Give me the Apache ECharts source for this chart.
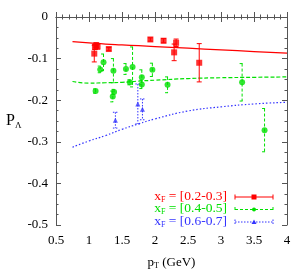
<!DOCTYPE html>
<html><head><meta charset="utf-8">
<script src="https://cdn.jsdelivr.net/npm/echarts@6/dist/echarts.min.js"></script>
<style>html,body{margin:0;padding:0;background:#fff}#c{width:295px;height:275px}</style>
</head><body><div id="c"></div>
<script>
// Data: [pT, P_Lambda, error]
const redPts = [
  [1.08, -0.088, 0.02], [1.09, -0.072, 0.006], [1.11, -0.068, 0.006], [1.13, -0.071, 0.006],
  [1.30, -0.077, 0.004], [1.93, -0.054, 0.004], [2.13, -0.057, 0.005], [2.29, -0.085, 0.02],
  [2.32, -0.062, 0.009], [2.67, -0.110, 0.046]
];
const greenPts = [
  [1.10, -0.178, 0.005], [1.17, -0.126, 0.008], [1.22, -0.109, 0.02], [1.36, -0.191, 0.013],
  [1.38, -0.180, 0.006], [1.37, -0.129, 0.029], [1.56, -0.125, 0.013], [1.62, -0.157, 0.006],
  [1.66, -0.120, 0.048], [1.80, -0.145, 0.018], [1.80, -0.162, 0.01], [1.96, -0.127, 0.016],
  [2.19, -0.163, 0.019], [3.32, -0.157, 0.045], [3.66, -0.272, 0.052]
];
const bluePts = [
  [1.40, -0.248, 0.019], [1.74, -0.209, 0.048], [1.81, -0.222, 0.025]
];
const curveX = [0.75, 1.0, 1.25, 1.5, 1.75, 2.0, 2.5, 3.0, 3.5, 4.0];
const redCurve = [-0.059, -0.062, -0.065, -0.067, -0.069, -0.071, -0.075, -0.079, -0.083, -0.087];
const greenCurve = [-0.155, -0.159, -0.158, -0.157, -0.154, -0.152, -0.148, -0.146, -0.145, -0.144];
const blueCurve = [-0.313, -0.298, -0.285, -0.270, -0.257, -0.245, -0.226, -0.216, -0.209, -0.205];
const xTicks = [0.5, 1, 1.5, 2, 2.5, 3, 3.5, 4];
const yTicks = [0, -0.1, -0.2, -0.3, -0.4, -0.5];
const legendNames = ['[0.2-0.3]', '[0.4-0.5]', '[0.6-0.7]'];

const RED = '#ff0000', GREEN = '#00e000', BLUE = '#3333ff';
const FONT = '"Liberation Serif", "DejaVu Serif", serif';
const AX = '#555';

function errSeries(pts, color, dash, sym, symSize) {
  return [{
    type: 'custom', xAxisIndex: 0, yAxisIndex: 0, z: 3,
    data: pts,
    renderItem: function (params, api) {
      const x = api.value(0), y = api.value(1), e = api.value(2);
      const top = api.coord([x, y + e]), bot = api.coord([x, y - e]);
      const w = 2.5;
      const st = { stroke: color, lineWidth: 1, lineDash: dash };
      return { type: 'group', children: [
        { type: 'line', shape: { x1: top[0], y1: top[1], x2: bot[0], y2: bot[1] }, style: st },
        { type: 'line', shape: { x1: top[0] - w, y1: top[1], x2: top[0] + w, y2: top[1] }, style: st },
        { type: 'line', shape: { x1: bot[0] - w, y1: bot[1], x2: bot[0] + w, y2: bot[1] }, style: st }
      ]};
    }
  }, {
    type: 'scatter', data: pts.map(p => [p[0], p[1]]), symbol: sym, symbolSize: symSize, z: 4,
    itemStyle: { color: color }, silent: true
  }];
}
function curve(ys, color, type) {
  return { type: 'line', data: curveX.map((x, i) => [x, ys[i]]), smooth: true, showSymbol: false,
    lineStyle: { color: color, width: 1.2, type: type }, z: 2, silent: true };
}

const axisCommon = {
  axisLine: { show: true, lineStyle: { color: AX, width: 1 } },
  splitLine: { show: false },
  axisTick: { show: true, inside: true, length: 5, lineStyle: { color: AX } }
};
const xMinor = { minorTick: { show: true, splitNumber: 5, length: 2.5, lineStyle: { color: AX } } };
const yMinor = { minorTick: { show: true, splitNumber: 4, length: 2.5, lineStyle: { color: AX } } };

const chart = echarts.init(document.getElementById('c'), null, { renderer: 'canvas' });
const option = {
  animation: false,
  grid: { left: 56, right: 8, top: 17, bottom: 40 },
  xAxis: [
    Object.assign({ type: 'value', min: 0.5, max: 4, interval: 0.5, position: 'bottom',
      axisLabel: { color: '#000', fontFamily: FONT, fontSize: 13, margin: 9,
        formatter: v => xTicks.includes(v) ? String(v) : '' },
      name: '{p|p}{s|T}{p| (GeV)}', nameLocation: 'middle', nameGap: 31,
      nameTextStyle: { rich: {
        p: { fontFamily: FONT, fontSize: 13, color: '#000' },
        s: { fontFamily: FONT, fontSize: 8, color: '#000', verticalAlign: 'bottom', padding: [6, 0, 0, 0] }
      } } }, axisCommon, xMinor),
    Object.assign({ type: 'value', min: 0.5, max: 4, interval: 0.5, position: 'top', axisLabel: { show: false } },
      axisCommon, xMinor)
  ],
  yAxis: [
    Object.assign({ type: 'value', min: -0.5, max: 0, interval: 0.1, position: 'left',
      axisLabel: { color: '#000', fontFamily: FONT, fontSize: 13, margin: 8,
        formatter: v => { const r = Math.round(v * 10) / 10; return yTicks.includes(r) ? (r === 0 ? '0' : String(r)) : ''; } },
      name: '{p|P}{s|Λ}', nameLocation: 'middle', nameGap: 30, nameRotate: 0,
      nameTextStyle: { rich: {
        p: { fontFamily: FONT, fontSize: 16, color: '#000' },
        s: { fontFamily: FONT, fontSize: 9, color: '#000', padding: [10, 0, 0, 0] }
      } } }, axisCommon, yMinor),
    Object.assign({ type: 'value', min: -0.5, max: 0, interval: 0.1, position: 'right', axisLabel: { show: false } },
      axisCommon, yMinor)
  ],
  series: [
    curve(redCurve, RED, 'solid'),
    curve(greenCurve, GREEN, [4, 2]),
    curve(blueCurve, BLUE, [1.5, 2]),
    ...errSeries(redPts, RED, null, 'rect', 6),
    ...errSeries(greenPts, GREEN, [3, 2], 'circle', 6),
    ...errSeries(bluePts, BLUE, [1.5, 1.5], 'triangle', 5)
  ],
  graphic: []
};

// Legend (manual, bottom right inside plot)
const legColors = [RED, GREEN, BLUE];
const legDash = [null, [3, 2], [1.5, 1.5]];
const legSym = ['rect', 'circle', 'triangle'];
const legY = [197, 209.5, 222];
legendNames.forEach((n, i) => {
  const c = legColors[i];
  option.graphic.push({
    type: 'text', right: 295 - 227, top: legY[i] - 8,
    style: { text: '{a|x}{b|F}{a| = ' + n + '}', fill: c,
      rich: { a: { fontFamily: FONT, fontSize: 13.5, fill: c }, b: { fontFamily: FONT, fontSize: 8, fill: c, padding: [7, 0, 0, 0] } } }
  });
  const st = { stroke: c, lineWidth: 1, lineDash: legDash[i] };
  option.graphic.push({ type: 'line', shape: { x1: 235, y1: legY[i], x2: 273, y2: legY[i] }, style: st });
  option.graphic.push({ type: 'line', shape: { x1: 235, y1: legY[i] - 2.5, x2: 235, y2: legY[i] + 2.5 }, style: st });
  option.graphic.push({ type: 'line', shape: { x1: 273, y1: legY[i] - 2.5, x2: 273, y2: legY[i] + 2.5 }, style: st });
  if (legSym[i] === 'rect') option.graphic.push({ type: 'rect', shape: { x: 251.5, y: legY[i] - 2.5, width: 5, height: 5 }, style: { fill: c } });
  else if (legSym[i] === 'circle') option.graphic.push({ type: 'circle', shape: { cx: 254, cy: legY[i], r: 2 }, style: { fill: c } });
  else option.graphic.push({ type: 'polygon', shape: { points: [[254, legY[i] - 2.5], [251.5, legY[i] + 2], [256.5, legY[i] + 2]] }, style: { fill: c } });
});

chart.setOption(option);
</script></body></html>
